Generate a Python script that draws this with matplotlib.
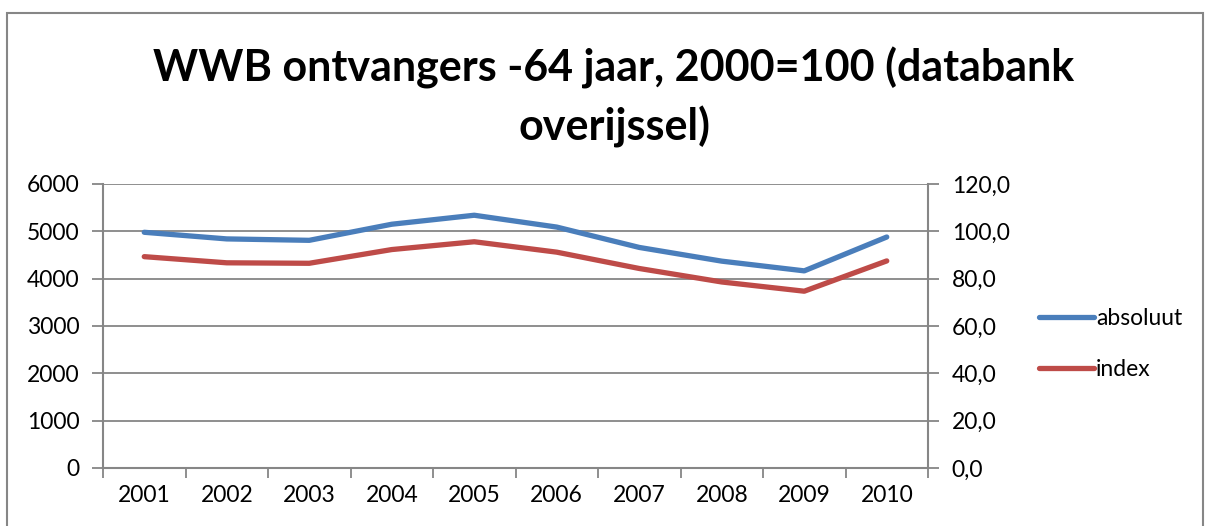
import matplotlib
matplotlib.use("Agg")
import matplotlib.pyplot as plt
from matplotlib.patches import Rectangle

# data
jaren = ['2001', '2002', '2003', '2004', '2005', '2006', '2007', '2008', '2009', '2010']
absoluut = [4980, 4840, 4810, 5150, 5340, 5090, 4660, 4370, 4165, 4880]
index = [89.3, 86.7, 86.5, 92.3, 95.6, 91.2, 84.3, 78.6, 74.7, 87.5]

left_ticks = [0, 1000, 2000, 3000, 4000, 5000, 6000]
right_ticks = [0, 20, 40, 60, 80, 100, 120]

blauw = '#4A7EBB'
rood = '#BE4B48'
grijs = '#868686'

plt.rcParams['font.family'] = ['Lato', 'DejaVu Sans']

W, H = 1215, 526
fig = plt.figure(figsize=(W / 100, H / 100), dpi=100)

# outer chart border like an Excel chart area
fig.patches.append(Rectangle((7 / W, -0.01), (1203 - 7) / W, (H - 13) / H + 0.01,
                             transform=fig.transFigure, fill=False,
                             edgecolor=grijs, linewidth=1.5))

ax = fig.add_axes([103 / W, 1 - 468 / H, (928 - 103) / W, (468 - 184) / H])
ax2 = ax.twinx()

x = list(range(len(jaren)))
ax.plot(x, absoluut, color=blauw, linewidth=3.8, solid_capstyle='round', label='absoluut')
ax2.plot(x, index, color=rood, linewidth=3.8, solid_capstyle='round', label='index')

ax.set_xlim(-0.5, len(jaren) - 0.5)
ax.set_ylim(0, 6000)
ax2.set_ylim(0, 120)
ax.set_yticks(left_ticks)
ax.set_yticklabels([str(t) for t in left_ticks])
ax2.set_yticks(right_ticks)
ax2.set_yticklabels([f'{t:.1f}'.replace('.', ',') for t in right_ticks])

# category labels centred, tick marks on the boundaries
ax.set_xticks(x)
ax.set_xticklabels(jaren)
ax.set_xticks([i - 0.5 for i in range(len(jaren) + 1)], minor=True)
ax.tick_params(axis='x', which='major', length=0, pad=12, labelsize=16.5)
ax.tick_params(axis='x', which='minor', length=7, color=grijs, width=1.3)

ax.grid(axis='y', color=grijs, linewidth=1.3)
ax.set_axisbelow(True)
ax.tick_params(axis='y', length=8, color=grijs, width=1.3, labelsize=16.5, pad=9)
ax2.tick_params(axis='y', length=8, color=grijs, width=1.3, labelsize=16.5, pad=9)

for a in (ax, ax2):
    for s in a.spines.values():
        s.set_visible(False)
ax.spines['left'].set_visible(True)
ax.spines['bottom'].set_visible(True)
ax2.spines['right'].set_visible(True)
for s in (ax.spines['left'], ax.spines['bottom'], ax2.spines['right']):
    s.set_color(grijs)
    s.set_linewidth(1.5)

fig.text(614 / W, 1 - 68 / H, 'WWB ontvangers -64 jaar, 2000=100 (databank',
         ha='center', va='center', fontsize=31, fontweight='bold')
fig.text(614 / W, 1 - 127 / H, 'overijssel)',
         ha='center', va='center', fontsize=31, fontweight='bold')

# legend at the right
h1 = ax.get_lines()[0]
h2 = ax2.get_lines()[0]
fig.legend([h1, h2], ['absoluut', 'index'], loc='center left',
           bbox_to_anchor=(1018 / W, 1 - 344 / H), frameon=False,
           fontsize=16.5, handlelength=2.4, handletextpad=0.1, labelspacing=1.3)

fig.savefig('out.png', dpi=100)
